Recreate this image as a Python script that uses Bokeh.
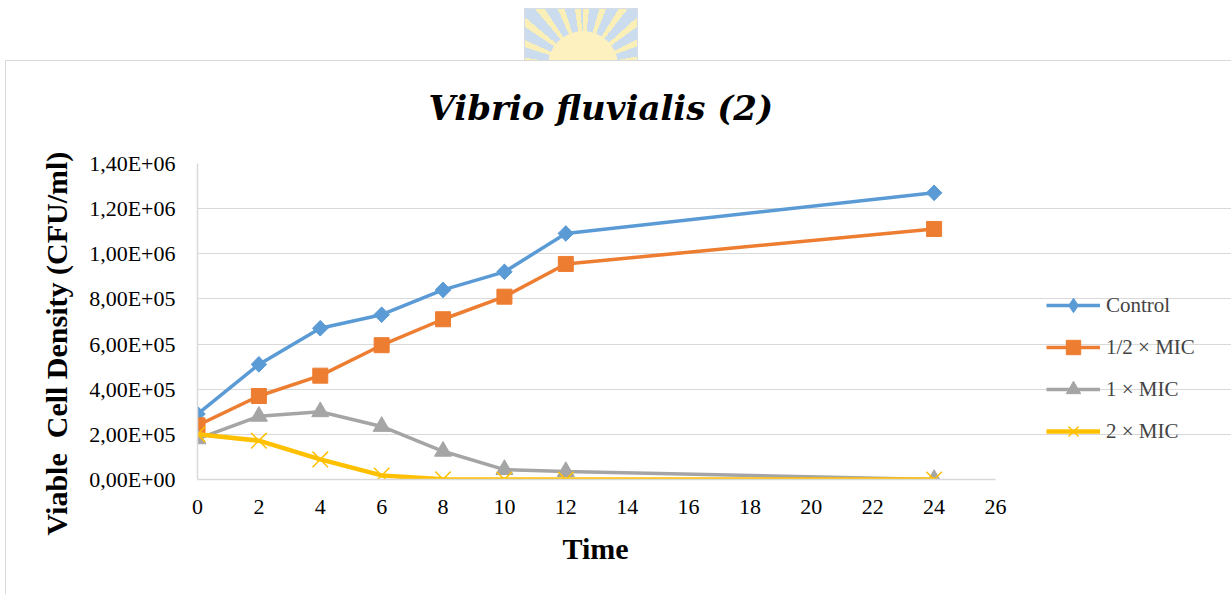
from bokeh.plotting import figure
from bokeh.models import (FixedTicker, Legend, LegendItem, Range1d, Title, Div)
from bokeh.layouts import column
from bokeh.embed import file_html
from bokeh.resources import INLINE

# ---- data ----
time = [0, 2, 4, 6, 8, 10, 12, 24]
control = [2.9e5, 5.1e5, 6.7e5, 7.3e5, 8.4e5, 9.2e5, 1.09e6, 1.27e6]
half_mic = [2.4e5, 3.7e5, 4.6e5, 5.95e5, 7.1e5, 8.1e5, 9.55e5, 1.11e6]
one_mic = [1.8e5, 2.8e5, 3.0e5, 2.35e5, 1.25e5, 4.4e4, 3.5e4, 0.0]
two_mic = [2.0e5, 1.72e5, 8.9e4, 1.8e4, 1.0e3, 0.0, 0.0, 0.0]

series_names = ["Control", "1/2 \u00d7 MIC", "1 \u00d7 MIC", "2 \u00d7 MIC"]
y_ticks = [0, 2e5, 4e5, 6e5, 8e5, 1.0e6, 1.2e6, 1.4e6]
y_tick_labels = ["0,00E+00", "2,00E+05", "4,00E+05", "6,00E+05", "8,00E+05",
                 "1,00E+06", "1,20E+06", "1,40E+06"]
x_ticks = list(range(0, 27, 2))
x_axis_max = 26

FONT = "Liberation Serif"
colors = ["#5B9BD5", "#ED7D31", "#A5A5A5", "#FFC000"]

# layout geometry (pixels)
W, H = 1231, 592
LEFT, TOP, AXIS_W, FRAME_H = 197, 163, 798, 316
frame_w = W - LEFT
x_end = x_axis_max * frame_w / AXIS_W   # frame extends right to hold the legend

p = figure(width=W, height=H, frame_width=frame_w, frame_height=FRAME_H,
           min_border_left=LEFT, min_border_right=0,
           min_border_top=TOP, min_border_bottom=H - TOP - FRAME_H,
           x_range=Range1d(0, x_end), y_range=Range1d(0, y_ticks[-1]),
           output_backend="svg", toolbar_location=None)
p.outline_line_color = None
p.background_fill_color = "white"
p.border_fill_color = "white"

p.xgrid.visible = False
p.ygrid.grid_line_color = "#d9d9d9"
p.ygrid.grid_line_width = 1
p.ygrid.bounds = (0, x_axis_max)

p.yaxis.ticker = FixedTicker(ticks=y_ticks)
p.yaxis.major_label_overrides = {t: l for t, l in zip(y_ticks, y_tick_labels)}
p.xaxis.ticker = FixedTicker(ticks=x_ticks)
p.xaxis.bounds = (0, x_axis_max)
for ax in (p.xaxis, p.yaxis):
    ax.axis_line_color = "#d9d9d9"
    ax.axis_line_width = 1.5
    ax.major_tick_line_color = None
    ax.minor_tick_line_color = None
    ax.major_label_text_font = FONT
    ax.major_label_text_font_size = "22px"
    ax.major_label_text_color = "black"
p.yaxis.major_label_standoff = 16
p.xaxis.major_label_standoff = 14

r1 = p.line(time, control, color=colors[0], line_width=3.5)
# diamond (used by the legend) sits under the rotated square drawn in the plot
m1_leg = p.scatter(time, control, marker="diamond", size=15, color=colors[0])
m1 = p.scatter(time, control, marker="square", size=11, angle=0.785398, color=colors[0])
r2 = p.line(time, half_mic, color=colors[1], line_width=3.5)
m2 = p.scatter(time, half_mic, marker="square", size=15, color=colors[1])
r3 = p.line(time, one_mic, color=colors[2], line_width=3.5)
m3 = p.scatter(time, one_mic, marker="triangle", size=17, color=colors[2])
r4 = p.line(time, two_mic, color=colors[3], line_width=4.5)
m4 = p.scatter(time, two_mic, marker="x", size=22, color=colors[3], line_width=1.5)

legend = Legend(items=[LegendItem(label=n, renderers=[a, b]) for n, a, b in
                       zip(series_names, [r1, r2, r3, r4], [m1_leg, m2, m3, m4])],
                location=(849, 30), border_line_color=None,
                background_fill_alpha=0, padding=0, margin=0,
                glyph_width=54, glyph_height=36, label_height=36,
                spacing=6, label_standoff=6,
                label_text_font=FONT, label_text_font_size="21px")
p.add_layout(legend, "center")

# title
p.title.text = "Vibrio fluvialis (2)"
p.title.align = "left"
p.title.offset = 231
p.title.standoff = 72
p.title.text_font = "DejaVu Serif"
p.title.text_font_size = "34px"
p.title.text_font_style = "bold italic"
p.title.text_color = "black"

# axis titles
p.add_layout(Title(text="Viable\u00a0 Cell Density (CFU/ml)", align="left", offset=-56,
                   standoff=28, text_font=FONT, text_font_size="30px",
                   text_font_style="bold", text_color="black"), "left")
p.add_layout(Title(text="Time", align="left", offset=365, standoff=26,
                   text_font=FONT, text_font_size="30px",
                   text_font_style="bold", text_color="black"), "below")

# chart-area border and faint watermark (decoration only)
deco = Div(width=1, height=1, text=(
    '<div style="position:fixed;left:5px;top:60px;width:1400px;height:800px;'
    'border:1.5px solid #d9d9d9;pointer-events:none;"></div>'
    '<div style="position:fixed;left:524px;top:8px;width:114px;height:52px;overflow:hidden;'
    'background:repeating-conic-gradient(from 0deg at 58px 57px,#fbefb8 0deg 6deg,'
    '#cadcee 6deg 16deg);border:1px solid #d5dde6;border-bottom:none;">'
    '<div style="position:absolute;left:23px;top:22px;width:70px;height:70px;'
    'border-radius:50%;background:#fdf2bf;"></div></div>'))

open("out.html", "w").write(file_html(column(p, deco), INLINE))
